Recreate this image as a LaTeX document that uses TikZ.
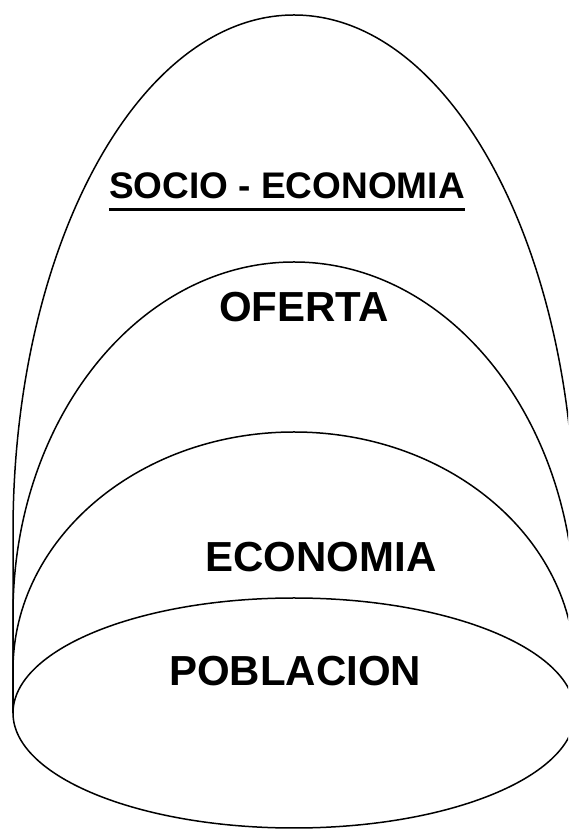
\documentclass[tikz,border=0pt]{standalone}
\usepackage{fontspec}
\setmainfont{Liberation Sans}
\begin{document}
\begin{tikzpicture}[x=1pt,y=1pt,
  shape line/.style={draw=black,line width=1.5pt},
  big label/.style={inner sep=0pt,anchor=base,font=\bfseries\fontsize{42}{42}\selectfont},
  title label/.style={inner sep=0pt,anchor=base,font=\bfseries\fontsize{37}{37}\selectfont}]
\useasboundingbox (0,0) rectangle (568,830);
\clip (0,0) rectangle (568,830);
% outer arch
\draw[shape line] (13,117) -- (13,298) arc[start angle=180,end angle=0,x radius=281,y radius=517] -- (575,117);
% middle arch
\draw[shape line] (13,117) -- (13,216) arc[start angle=180,end angle=0,x radius=281,y radius=352] -- (575,117);
% inner arch
\draw[shape line] (13,117) -- (13,160) arc[start angle=180,end angle=0,x radius=281,y radius=238] -- (575,117);
% bottom ellipse
\draw[shape line] (294,117) ellipse[x radius=281,y radius=115];
% labels
\node[title label] (socio) at (287,631) {SOCIO - ECONOMIA};
\draw[line width=3pt] ([yshift=-11pt]socio.base west) -- ([yshift=-11pt]socio.base east);
\node[big label] (oferta) at (304,508) {OFERTA};
\node[big label] (economia) at (321,258) {ECONOMIA};
\node[big label] (poblacion) at (295,144) {POBLACION};
\end{tikzpicture}
\end{document}
